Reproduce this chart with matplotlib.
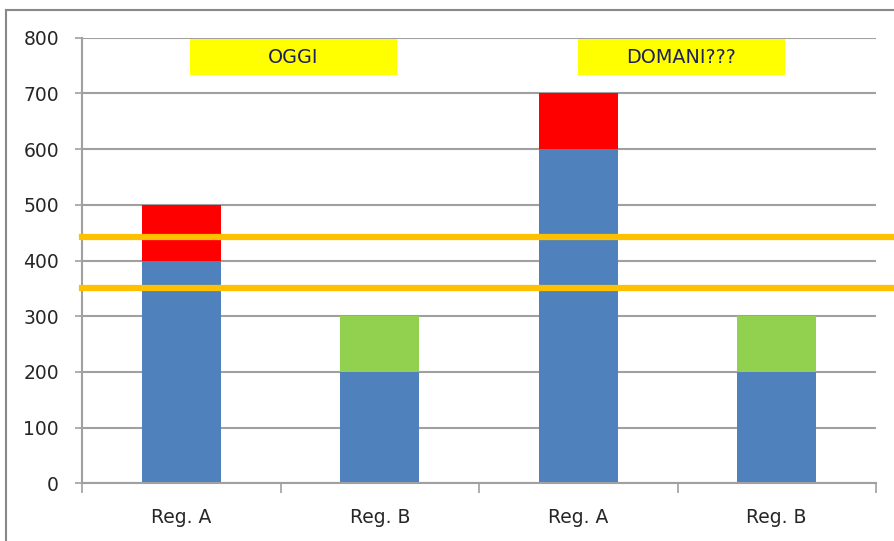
import matplotlib.pyplot as plt
from matplotlib.patches import Rectangle
from matplotlib.lines import Line2D

# === Data ===
regions = ["Reg. A", "Reg. B", "Reg. A", "Reg. B"]
base_values = [400, 200, 600, 200]
extra_values = [100, 100, 100, 100]
extra_colors = ["#FF0000", "#92D050", "#FF0000", "#92D050"]
threshold_levels = [443, 351]
box_labels = ["OGGI", "DOMANI???"]

plt.rcParams['font.family'] = ['DejaVu Sans']

fig = plt.figure(figsize=(8.94, 5.41), dpi=100)
W, H = 894, 541
ax = fig.add_axes([82 / W, (H - 483.3) / H, (876 - 82) / W, (483.3 - 37.7) / H])

x = list(range(len(regions)))
ax.bar(x, base_values, width=0.4, color="#4F81BD", zorder=2)
ax.bar(x, extra_values, bottom=base_values, width=0.4, color=extra_colors, zorder=2)

ax.set_xlim(-0.5, 3.5)
ax.set_ylim(0, 800)
ax.set_yticks(range(0, 801, 100))
ax.yaxis.grid(True, color="#A0A0A0", linewidth=1.5, zorder=0)
ax.set_axisbelow(True)

# category labels without ticks, separator ticks at boundaries
ax.set_xticks(x)
ax.set_xticklabels(regions, fontsize=13.5, color="#262626")
ax.tick_params(axis="x", length=0, pad=18)
ax.set_xticks([-0.5, 0.5, 1.5, 2.5, 3.5], minor=True)
ax.tick_params(axis="x", which="minor", length=7, color="#A0A0A0", width=1.2)
ax.tick_params(axis="y", labelsize=13.5, colors="#262626", length=5, width=1.2, pad=11.5)
ax.tick_params(axis="y", color="#A0A0A0")

for side in ["top", "right"]:
    ax.spines[side].set_visible(False)
for side in ["left", "bottom"]:
    ax.spines[side].set_color("#A0A0A0")
    ax.spines[side].set_linewidth(1.5)

# orange threshold lines running past the plot area
for lvl in threshold_levels:
    ax.axhline(lvl, xmin=0.0, xmax=1.03, color="#FFC000", linewidth=4.5,
               clip_on=False, zorder=3)

# yellow label boxes
box_spans = [(0.045, 1.087), (2.0, 3.04)]
for (x0, x1), lbl in zip(box_spans, box_labels):
    ax.add_patch(Rectangle((x0, 733), x1 - x0, 65, facecolor="#FFFF00",
                           edgecolor="none", zorder=3, clip_on=False))
    ax.text((x0 + x1) / 2, 765, lbl, ha="center", va="center", fontsize=13.8,
            color="#1F1F5F", zorder=4)

# outer chart frame (left and top edges visible)
fig.add_artist(Line2D([6 / W, 6 / W], [0, (H - 10) / H], color="#888888", linewidth=1.5))
fig.add_artist(Line2D([6 / W, 1], [(H - 10) / H, (H - 10) / H], color="#888888", linewidth=1.5))

fig.savefig("out.png", dpi=100)
